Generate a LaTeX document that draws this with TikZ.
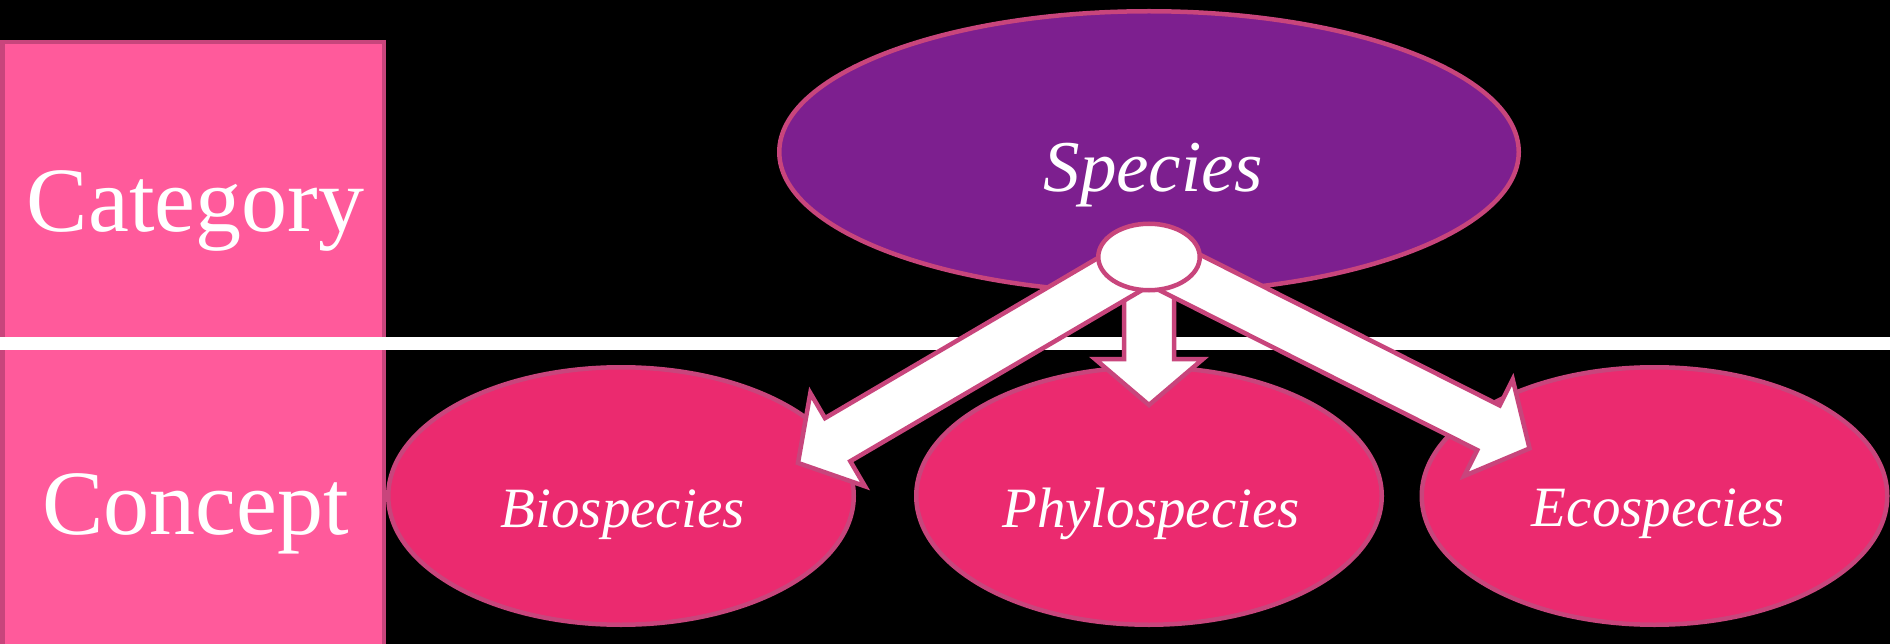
\documentclass[tikz,border=0pt]{standalone}
\usepackage{fontspec}
\setmainfont{Liberation Serif}
\usetikzlibrary{shapes.geometric}
\definecolor{purp}{HTML}{7D1F8F}
\definecolor{cpink}{HTML}{EB2A6F}
\definecolor{rpink}{HTML}{FF5A9B}
\definecolor{edgepink}{HTML}{C8457C}
\begin{document}
\begin{tikzpicture}[x=1pt,y=-1pt,
  blob/.style={ellipse, draw=edgepink, line width=4.5pt, inner sep=0pt},
  concept/.style={blob, fill=cpink, minimum width=465.5pt, minimum height=257.5pt},
  lbl/.style={anchor=base, text=white, inner sep=0pt},
  uplbl/.style={lbl, font=\fontsize{92}{92}\selectfont},
  itlbl/.style={lbl, font=\itshape\fontsize{57}{57}\selectfont},
  blockarrow/.style={fill=white, draw=edgepink, line width=4.5pt, line join=miter}]
\fill[black] (0,0) rectangle (1890,644);
\useasboundingbox (0,0) rectangle (1890,644);
% side panel
\filldraw[fill=rpink, draw=edgepink, line width=4.5pt] (2.25,42) rectangle (384,690);
% separator line
\coordinate (lineL) at (0,343.5);
\coordinate (lineR) at (1890,343.5);
\draw[white, line width=13pt] (lineL) -- (lineR);
% ellipses
\node[blob, fill=purp, minimum width=739.5pt, minimum height=281.5pt] (species) at (1149,152) {};
\node[concept] (bio) at (621,496) {};
\node[concept] (phylo) at (1149,496) {};
\node[concept] (eco) at (1654.5,496) {};
% block arrows from the hub
\coordinate (hubc) at (1149,257);
\begin{scope}[shift={(hubc)}, rotate=-90]
  \draw[blockarrow] (0,-25) -- (102,-25) -- (102,-54) -- (148,0) -- (102,54) -- (102,25) -- (0,25) -- cycle;
\end{scope}
\begin{scope}[shift={(hubc)}, rotate=210.4]
  \draw[blockarrow] (0,-25) -- (361,-25) -- (361,-54) -- (407,0) -- (361,54) -- (361,25) -- (0,25) -- cycle;
\end{scope}
\begin{scope}[shift={(hubc)}, rotate=-26.7]
  \draw[blockarrow] (0,-25) -- (380,-25) -- (380,-54) -- (426,0) -- (380,54) -- (380,25) -- (0,25) -- cycle;
\end{scope}
\node[blob, fill=white, minimum width=101.5pt, minimum height=66.5pt] (hub) at (hubc) {};
% labels
\node[uplbl] (cat) at (195.5,232) {Category};
\node[uplbl] (con) at (195.5,534) {Concept};
\node[lbl, font=\itshape\fontsize{73}{73}\selectfont] (spt) at (1153,192) {Species};
\node[itlbl] (biot) at (622.6,527) {Biospecies};
\node[itlbl] (phylot) at (1151,527) {Phylospecies};
\node[itlbl] (ecot) at (1658.5,526) {Ecospecies};
\end{tikzpicture}
\end{document}
